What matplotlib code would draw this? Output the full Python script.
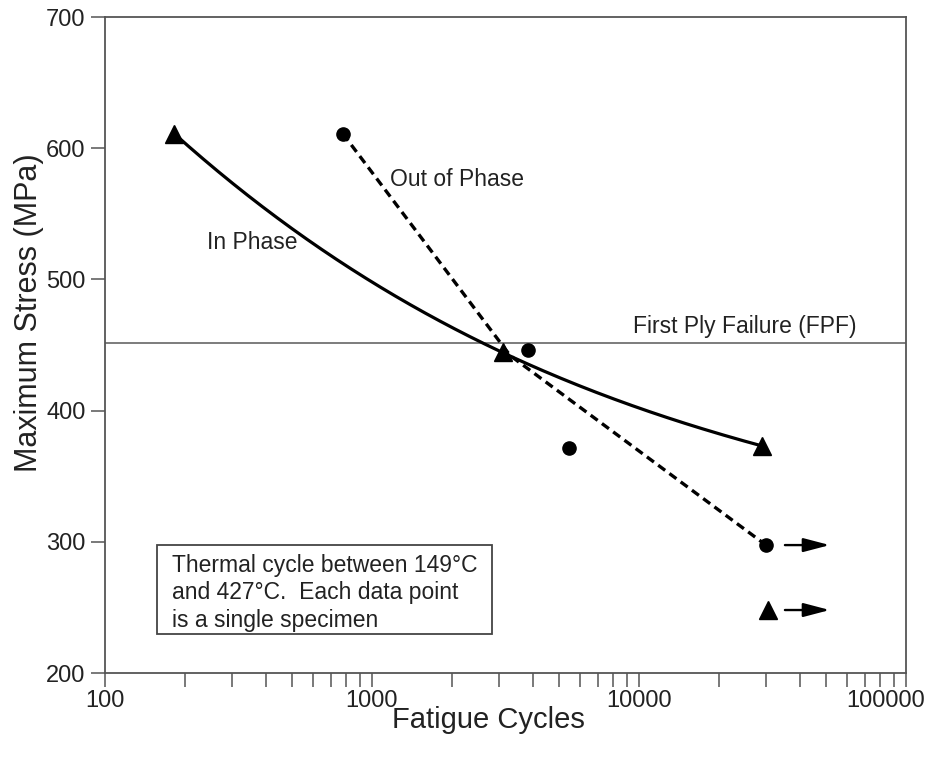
import numpy as np
from matplotlib import pyplot as plt
from matplotlib import transforms
from matplotlib.patches import Rectangle

plt.rcParams['font.family'] = ['Liberation Sans', 'DejaVu Sans']

## data
# In Phase specimens (triangles)
in_cycles = [181, 3100, 28900]
in_stress = [611, 445, 373]
in_runout_cycles = [30400]
in_runout_stress = [248]

# Out of Phase specimens (circles)
out_cycles = [778, 3840, 5470, 29900]
out_stress = [611, 446, 371.5, 297.5]

# hand drawn trend lines
in_curve_cycles = [181, 350, 538, 829, 1276, 1966, 3030, 7180, 11040, 17000, 28900]
in_curve_stress = [611, 563, 536, 507, 483, 464, 448, 411, 399, 387, 373]
out_curve_cycles = [778, 3290, 29900]
out_curve_stress = [611, 442, 297.5]

fpf_stress = 451.5

# run-out arrows
arrow_start = 35200
arrow_end = 51800
arrow_stress = [297.5, 248]

xticks = [100, 1000, 10000, 100000]
xticklabels = ['100', '1000', '10000', '100000']
yticks = [200, 300, 400, 500, 600, 700]

fig = plt.figure(figsize=(9.28, 7.6), dpi=100)
ax = fig.add_axes([105/928, 87/760, 801/928, 656/760])

ax.set_xscale('log')
ax.set_xlim(100, 100000)
ax.set_ylim(200, 700)

spine_col = '#555555'
for s in ax.spines.values():
    s.set_color(spine_col)
    s.set_linewidth(1.3)

ax.axhline(fpf_stress, color='#666666', lw=1.2, zorder=1)

# smooth the hand drawn in-phase curve (cubic in log cycles)
lx = np.log10(in_curve_cycles)
coef = np.polyfit(lx, in_curve_stress, 3)
xs = np.linspace(lx[0], lx[-1], 200)
ax.plot(10**xs, np.polyval(coef, xs), color='black', lw=2.3, zorder=2)
ax.plot(out_curve_cycles, out_curve_stress, color='black', lw=2.4,
        dashes=(2.6, 1.6), zorder=2)

ax.plot(in_cycles, in_stress, ls='none', marker='^', ms=13.5, color='black', zorder=3)
ax.plot(in_runout_cycles, in_runout_stress, ls='none', marker='^', ms=13.5,
        color='black', zorder=3)
ax.plot(out_cycles, out_stress, ls='none', marker='o', ms=9.5, color='black', zorder=3)

for yv in arrow_stress:
    ax.annotate('', xy=(arrow_end, yv), xytext=(arrow_start, yv),
                arrowprops=dict(arrowstyle='-|>,head_length=1.6,head_width=0.42',
                                color='black', lw=1.7, shrinkA=0, shrinkB=0))

ax.text(1167, 576, 'Out of Phase', fontsize=16.5, ha='left', va='center', color='#222222')
ax.text(241, 528.5, 'In Phase', fontsize=16.5, ha='left', va='center', color='#222222')
ax.text(9500, 459, 'First Ply Failure (FPF)', fontsize=16.5, ha='left',
        va='baseline', color='#222222')

# note box
ax.add_patch(Rectangle((0.0649, 0.0595), 0.4182, 0.1356, transform=ax.transAxes,
                       fc='white', ec='#444444', lw=1.3, zorder=4))
ax.text(0.0836, 0.182, 'Thermal cycle between 149°C\nand 427°C.  Each data point\nis a single specimen',
        transform=ax.transAxes, fontsize=16.5, ha='left', va='top', color='#222222',
        linespacing=1.27, zorder=5)

ax.set_xticks(xticks)
ax.set_xticklabels(xticklabels)
ax.set_yticks(yticks)
ax.tick_params(axis='both', which='both', direction='out', length=10, width=1.1,
               color=spine_col, labelsize=17, labelcolor='#222222')
ax.tick_params(axis='x', pad=2)
ax.tick_params(axis='y', pad=4)
ax.xaxis.set_minor_formatter(plt.NullFormatter())

# last tick label is pushed left so it stays inside the figure
lab = ax.get_xticklabels()[-1]
lab.set_ha('right')
lab.set_transform(lab.get_transform() + transforms.ScaledTranslation(19/100, 0, fig.dpi_scale_trans))

ax.set_xlabel('Fatigue Cycles', fontsize=21, color='#222222')
ax.xaxis.set_label_coords(0.479, -0.071)
ax.xaxis.label.set_va('center')
ax.set_ylabel('Maximum Stress (MPa)', fontsize=22, color='#222222')
ax.yaxis.set_label_coords(-0.095, 0.55)
ax.yaxis.label.set_va('center')

fig.savefig('out.png', dpi=100)
